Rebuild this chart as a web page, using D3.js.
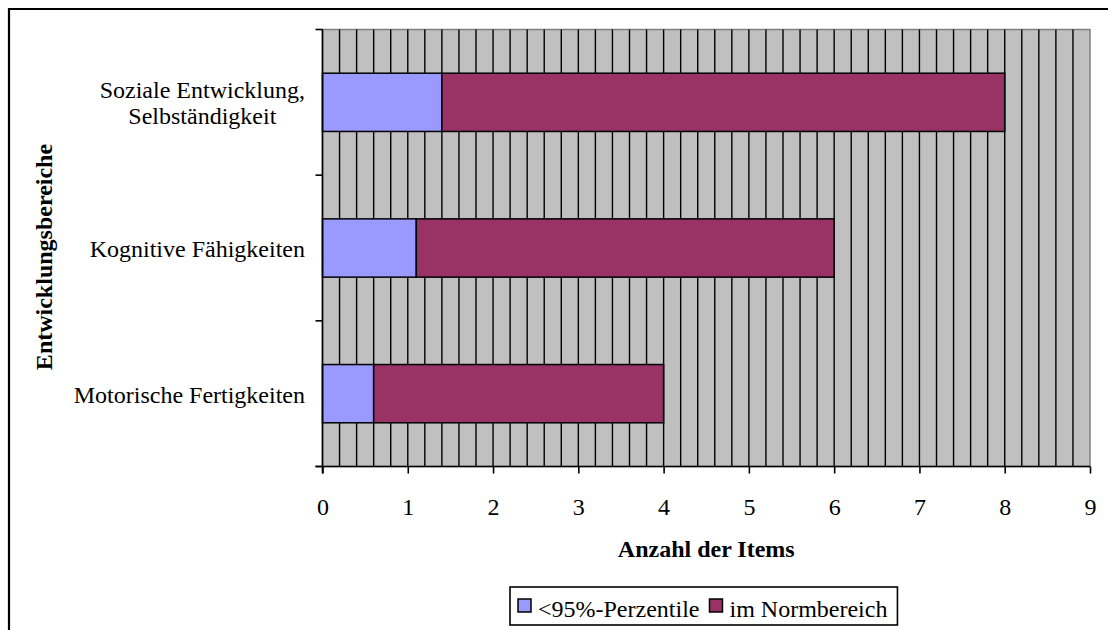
<!DOCTYPE html>
<html>
<head>
<meta charset="utf-8">
<script src="https://cdn.jsdelivr.net/npm/d3@7"></script>
<style>
  html, body { margin: 0; padding: 0; background: #fff; }
  svg { display: block; }
  text { font-family: "Liberation Serif", "Times New Roman", serif; fill: #000; }
</style>
</head>
<body>
<svg id="chart" width="1108" height="630"></svg>
<script>
// Entwicklungsbereiche (von oben nach unten)
const categories = [
  ["Soziale Entwicklung,", "Selbständigkeit"],
  ["Kognitive Fähigkeiten"],
  ["Motorische Fertigkeiten"]
];
const seriesNames = ["<95%-Perzentile", "im Normbereich"];
const seriesColors = ["#9999FF", "#993366"];
// Anzahl der Items je Bereich
const belowPercentile = [1.4, 1.1, 0.6];
const inNormRange = [6.6, 4.9, 3.4];
const xTicks = [0, 1, 2, 3, 4, 5, 6, 7, 8, 9];
const xTitle = "Anzahl der Items";
const yTitle = "Entwicklungsbereiche";

const svg = d3.select("#chart");
const plot = { left: 322.5, right: 1090, top: 29.5, bottom: 466.5 };
const fontSize = 24;

// outer chart frame (open to the right and bottom edges)
svg.append("path")
  .attr("d", "M9,640 L9,9 L1120,9")
  .attr("fill", "none").attr("stroke", "#000").attr("stroke-width", 2.2);

const keys = categories.map(c => c.join(" "));
const x = d3.scaleLinear().domain([0, 9]).range([plot.left, plot.right]);
const y = d3.scaleBand().domain(keys).range([plot.top, plot.bottom])
  .paddingInner(0.6).paddingOuter(0.3);

// plot background
svg.append("rect")
  .attr("x", plot.left).attr("y", plot.top)
  .attr("width", plot.right - plot.left).attr("height", plot.bottom - plot.top)
  .attr("fill", "#C0C0C0").attr("stroke", "#808080").attr("stroke-width", 1.5);

// minor vertical gridlines every 0.2 items
const grid = d3.range(1, 45).map(i => i / 5);
svg.append("g").selectAll("line").data(grid).join("line")
  .attr("x1", d => x(d)).attr("x2", d => x(d))
  .attr("y1", plot.top).attr("y2", plot.bottom)
  .attr("stroke", "#000").attr("stroke-width", 1.4);

// stacked bars
const stacks = [belowPercentile, inNormRange];
const rows = keys.map((k, i) => ({ key: k, vals: stacks.map(s => s[i]) }));
const barG = svg.append("g");
rows.forEach(r => {
  let acc = 0;
  r.vals.forEach((v, si) => {
    barG.append("rect")
      .attr("x", x(acc)).attr("y", y(r.key))
      .attr("width", x(acc + v) - x(acc)).attr("height", y.bandwidth())
      .attr("fill", seriesColors[si])
      .attr("stroke", "#000").attr("stroke-width", 1.5);
    acc += v;
  });
});

// x axis
const xAxis = svg.append("g").attr("transform", `translate(0,${plot.bottom})`)
  .call(d3.axisBottom(x).tickValues(xTicks).tickSize(7).tickSizeOuter(0).tickPadding(24));
xAxis.select(".domain").attr("stroke", "#000").attr("stroke-width", 1.6)
  .attr("d", `M${plot.left - 7},0H${plot.right}`);
xAxis.selectAll(".tick line").attr("stroke", "#000").attr("stroke-width", 1.6);
xAxis.selectAll(".tick text")
  .style("font-family", "'Liberation Serif', 'Times New Roman', serif")
  .style("font-size", fontSize + "px").attr("fill", "#000");

// y axis: ticks sit on the category boundaries
const bounds = d3.range(keys.length + 1).map(i => plot.top + i * y.step());
const yAxis = svg.append("g");
yAxis.append("line")
  .attr("x1", plot.left).attr("x2", plot.left)
  .attr("y1", plot.top).attr("y2", plot.bottom + 7)
  .attr("stroke", "#000").attr("stroke-width", 1.6);
yAxis.selectAll("line.tk").data(bounds).join("line").attr("class", "tk")
  .attr("x1", plot.left - 7).attr("x2", plot.left)
  .attr("y1", d => d).attr("y2", d => d)
  .attr("stroke", "#000").attr("stroke-width", 1.6);

// category labels, multi-line labels centred within their block
const lineH = 26;
categories.forEach((lines, i) => {
  const cy = y(keys[i]) + y.bandwidth() / 2;
  const g = svg.append("g");
  const texts = lines.map((ln, j) => g.append("text")
    .attr("y", cy + 9 - (lines.length - 1) * lineH / 2 + j * lineH)
    .style("font-size", fontSize + "px").text(ln));
  const widths = texts.map(t => t.node().getComputedTextLength());
  const maxW = d3.max(widths);
  const right = plot.left - 17.5;
  texts.forEach(t => t.attr("x", right - maxW / 2).attr("text-anchor", "middle"));
});

// axis titles
svg.append("text").attr("x", (plot.left + plot.right) / 2).attr("y", 557)
  .attr("text-anchor", "middle").style("font-size", fontSize + "px")
  .style("font-weight", "bold").text(xTitle);
svg.append("text").attr("transform", "translate(52,257) rotate(-90)")
  .attr("text-anchor", "middle").style("font-size", fontSize + "px")
  .style("font-weight", "bold").text(yTitle);

// legend
const legend = svg.append("g");
const legBox = legend.append("rect")
  .attr("y", 587).attr("height", 38)
  .attr("fill", "#fff").attr("stroke", "#000").attr("stroke-width", 1.6);
let lx = 518;
seriesNames.forEach((name, i) => {
  legend.append("rect").attr("x", lx).attr("y", 599).attr("width", 13).attr("height", 13)
    .attr("fill", seriesColors[i]).attr("stroke", "#000").attr("stroke-width", 1.5);
  const t = legend.append("text").attr("x", lx + 20).attr("y", 617)
    .style("font-size", fontSize + "px").text(name);
  lx += 20 + t.node().getComputedTextLength() + 10;
});
legBox.attr("x", 510).attr("width", lx - 510);
</script>
</body>
</html>
